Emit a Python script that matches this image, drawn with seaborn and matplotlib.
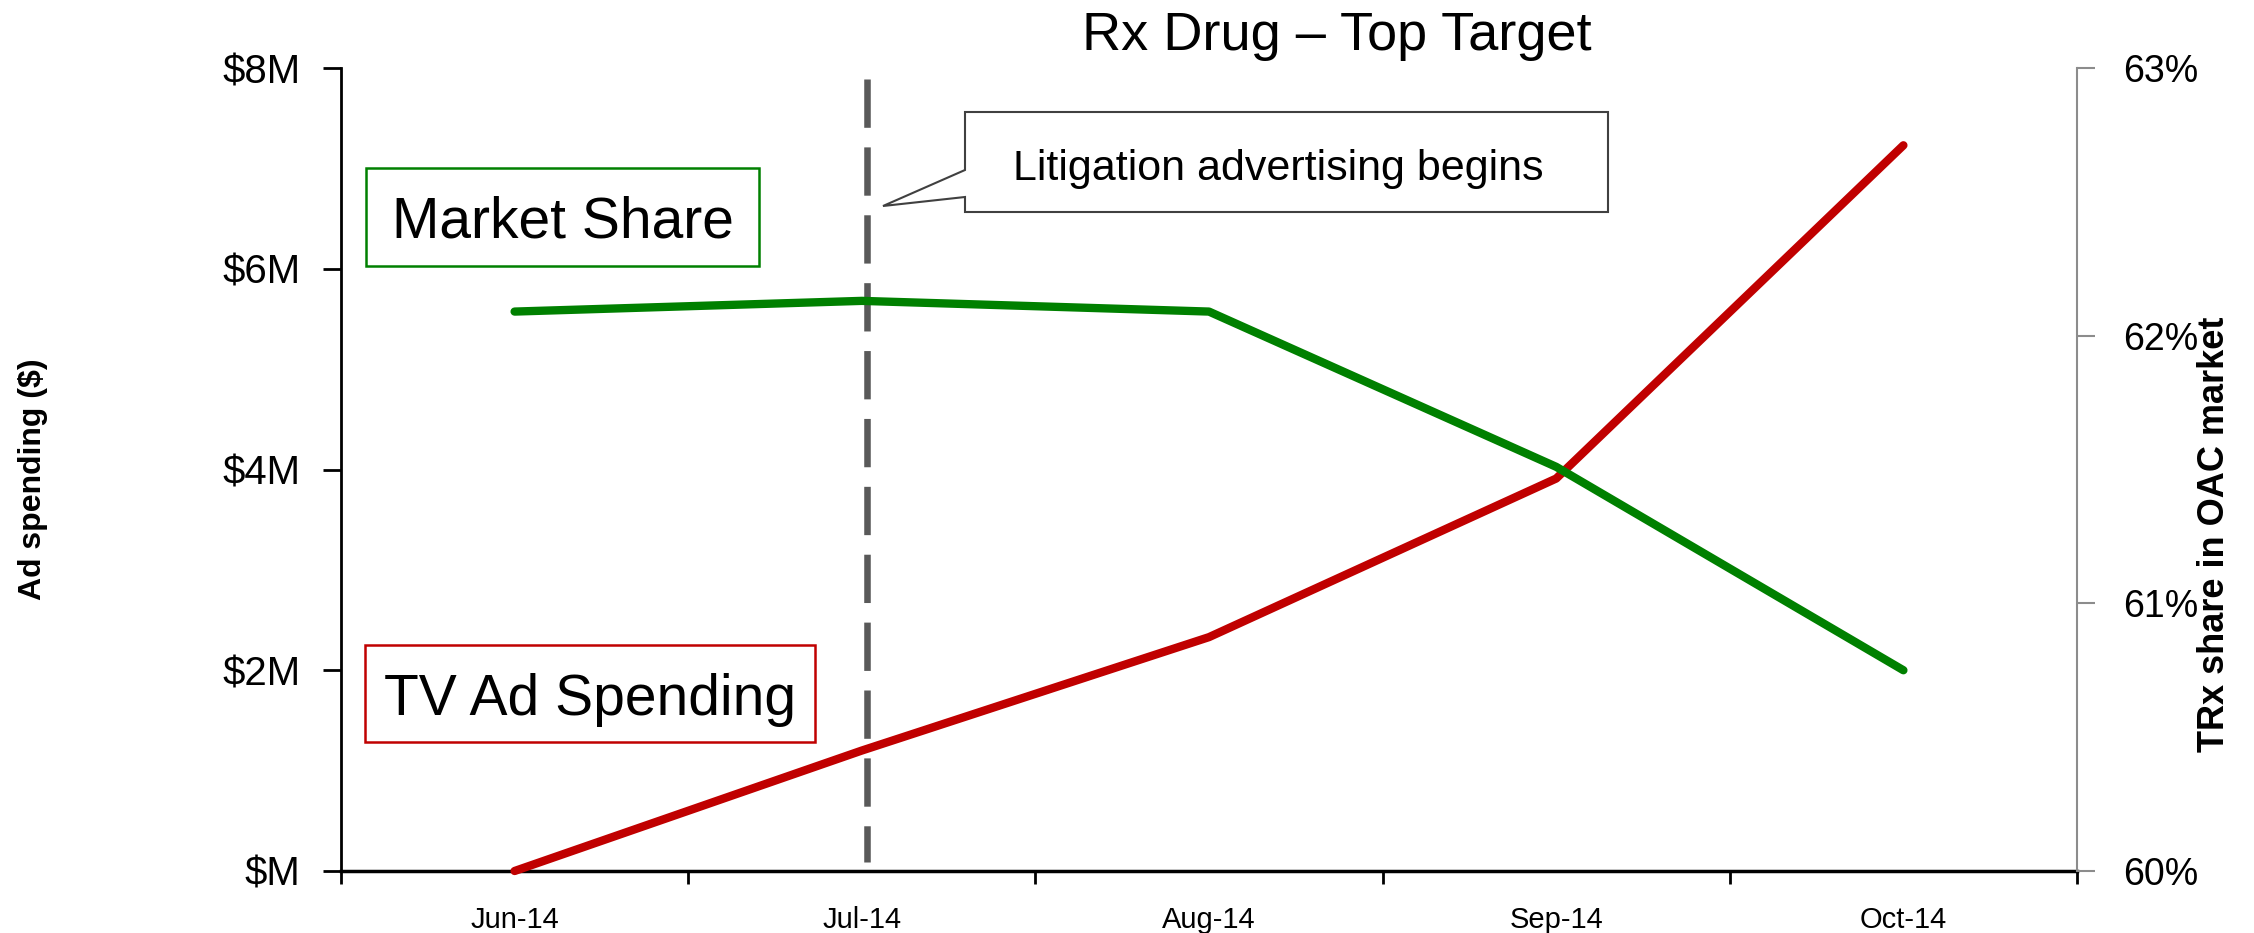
import matplotlib
matplotlib.use("Agg")
import matplotlib.pyplot as plt
import matplotlib.ticker as mticker
from matplotlib.patches import Polygon, Rectangle
import seaborn as sns
import pandas as pd

# ---- data ----
months = ["Jun-14", "Jul-14", "Aug-14", "Sep-14", "Oct-14"]
ad_spending = [0.0, 1.20e6, 2.33e6, 3.91e6, 7.23e6]      # $
market_share = [62.09, 62.13, 62.09, 61.51, 60.75]        # %
left_ticks = [0, 2e6, 4e6, 6e6, 8e6]
right_ticks = [60, 61, 62, 63]
title = "Rx Drug \u2013 Top Target"
event_month = "Jul-14"
event_text = "Litigation advertising begins"
series_labels = ["Market Share", "TV Ad Spending"]

sns.set_theme(style="white")
plt.rcParams["font.family"] = ["Liberation Sans", "DejaVu Sans"]
plt.rcParams["text.color"] = "black"
plt.rcParams["xtick.color"] = "black"
plt.rcParams["ytick.color"] = "black"

RED = "#C00000"
GREEN = "#008000"
W, H = 2254, 933

def fx(x):
    return x / W

def fy(y):
    return 1 - y / H

df = pd.DataFrame({"month": months, "ad": ad_spending, "share": market_share})

fig = plt.figure(figsize=(W / 100, H / 100), dpi=100)
ax = fig.add_axes([fx(341), fy(871), (2077 - 341) / W, (871 - 68) / H])
ax2 = ax.twinx()

sns.lineplot(data=df, x="month", y="ad", ax=ax, color=RED, lw=6, sort=False,
             solid_capstyle="round", solid_joinstyle="round", clip_on=False, zorder=3)
sns.lineplot(data=df, x="month", y="share", ax=ax2, color=GREEN, lw=6, sort=False,
             solid_capstyle="round", solid_joinstyle="round", clip_on=False, zorder=3)

n = len(months)
ax.set_xlim(-0.5, n - 0.5)
ax.set_ylim(left_ticks[0], left_ticks[-1])
ax2.set_ylim(right_ticks[0], right_ticks[-1])

# x ticks: labels at centers, tick marks at boundaries
ax.set_xticks(range(n))
ax.set_xticklabels(months, fontsize=21)
ax.set_xticks([i - 0.5 for i in range(n + 1)], minor=True)
ax.tick_params(axis="x", which="major", length=0, pad=25)
ax.tick_params(axis="x", which="minor", length=9, width=2, color="black", direction="out", bottom=True)

ax.set_yticks(left_ticks)
ax.yaxis.set_major_formatter(mticker.FuncFormatter(
    lambda v, p: "$M" if v == 0 else f"${v/1e6:g}M"))
ax.tick_params(axis="y", which="major", length=13, width=2, color="black",
               direction="out", left=True, labelsize=29, pad=16)

ax2.set_yticks(right_ticks)
ax2.yaxis.set_major_formatter(mticker.FuncFormatter(lambda v, p: f"{v:.0f}%"))
ax2.tick_params(axis="y", which="major", length=13, width=1.5, color="#8C8C8C",
                direction="out", right=True, labelsize=27, pad=20)

ax.set_xlabel("")
ax.set_ylabel("")
ax2.set_ylabel("")

for a in (ax, ax2):
    a.spines["top"].set_visible(False)
    a.grid(False)
ax.spines["right"].set_visible(False)
ax.spines["left"].set_color("black")
ax.spines["left"].set_linewidth(2)
ax.spines["bottom"].set_color("black")
ax.spines["bottom"].set_linewidth(2.5)
ax2.spines["left"].set_visible(False)
ax2.spines["bottom"].set_visible(False)
ax2.spines["right"].set_color("#8C8C8C")
ax2.spines["right"].set_linewidth(1.5)

# event line (drawn top to bottom so the dash pattern starts at the top)
ex = months.index(event_month) + 0.014
ax.plot([ex, ex], [7.89e6, 0.09e6], color="#595959", lw=4.7,
        linestyle=(0, (7.4, 3.0)), dash_capstyle="butt", zorder=2)

# callout (box + wedge) in figure pixel space
callout = [(965, 112), (1608, 112), (1608, 212), (965, 212), (965, 197),
           (883, 206), (965, 170)]
fig.add_artist(Polygon([(fx(x), fy(y)) for x, y in callout], closed=True,
                       transform=fig.transFigure, fc="white", ec="#404040", lw=1.5,
                       joinstyle="miter", zorder=5))
fig.text(fx(1278), fy(180), event_text, ha="center", va="baseline", fontsize=31, zorder=6)

# series label boxes
for (x0, y0, x1, y1), col, lab, base in [((366, 168, 759, 266), GREEN, series_labels[0], 238),
                                         ((365, 645, 815, 742), RED, series_labels[1], 715)]:
    fig.add_artist(Rectangle((fx(x0), fy(y1)), (x1 - x0) / W, (y1 - y0) / H,
                             transform=fig.transFigure, fc="white", ec=col, lw=1.8, zorder=5))
    fig.text(fx((x0 + x1) / 2), fy(base), lab, ha="center", va="baseline",
             fontsize=41, zorder=6)

fig.text(fx(1337), fy(50), title, ha="center", va="baseline", fontsize=39)
fig.text(fx(33), fy(479), "Ad spending ($)", rotation=90, ha="center", va="center",
         fontsize=23, fontweight="bold")
fig.text(fx(2214), fy(534), "TRx share in OAC market", rotation=90, ha="center",
         va="center", fontsize=26, fontweight="bold")

fig.savefig("out.png", dpi=100)
